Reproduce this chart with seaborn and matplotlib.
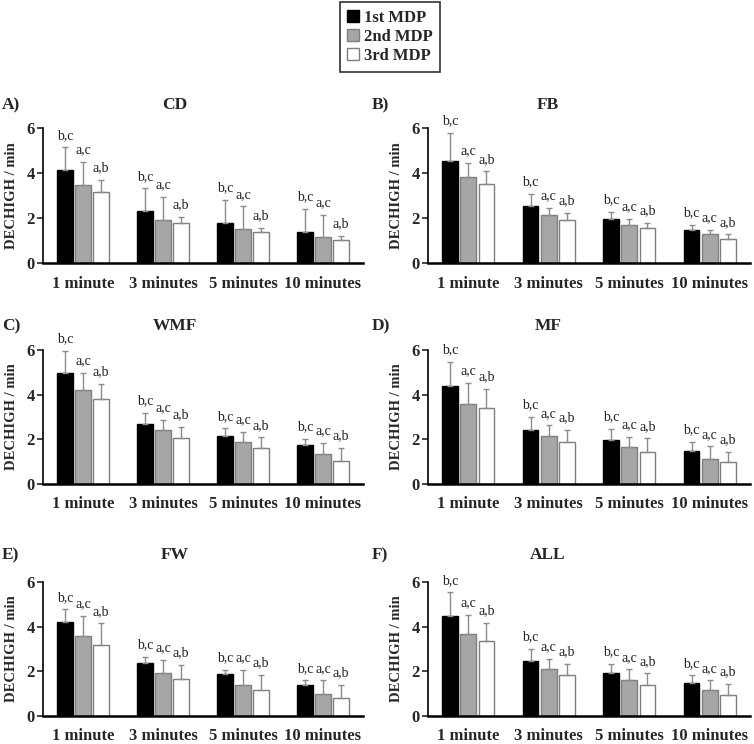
import numpy as np
import pandas as pd
import matplotlib
matplotlib.use('Agg')
import matplotlib.pyplot as plt
from matplotlib.patches import Patch
import seaborn as sns

# -------------------- Data --------------------
times = ['1 minute', '3 minutes', '5 minutes', '10 minutes']
mdps = ['1st MDP', '2nd MDP', '3rd MDP']
sig_labels = ['b,c', 'a,c', 'a,b']
panel_names = ['CD', 'FB', 'WMF', 'MF', 'FW', 'ALL']
panel_letters = ['A)', 'B)', 'C)', 'D)', 'E)', 'F)']

# rows = time window, columns = 1st / 2nd / 3rd MDP
cd_mean = [[4.15, 3.48, 3.16], [2.30, 1.93, 1.78], [1.78, 1.53, 1.36], [1.36, 1.16, 1.02]]
cd_sd = [[0.99, 1.01, 0.53], [1.02, 1.00, 0.26], [1.02, 0.99, 0.20], [1.04, 0.97, 0.17]]

fb_mean = [[4.55, 3.81, 3.51], [2.53, 2.13, 1.93], [1.94, 1.67, 1.54], [1.47, 1.27, 1.08]]
fb_sd = [[1.23, 0.63, 0.56], [0.54, 0.31, 0.29], [0.34, 0.29, 0.25], [0.23, 0.20, 0.19]]

wmf_mean = [[4.97, 4.20, 3.80], [2.70, 2.40, 2.06], [2.14, 1.89, 1.62], [1.73, 1.33, 1.03]]
wmf_sd = [[1.00, 0.79, 0.70], [0.47, 0.48, 0.49], [0.35, 0.43, 0.47], [0.29, 0.50, 0.59]]

mf_mean = [[4.41, 3.57, 3.39], [2.43, 2.14, 1.87], [1.98, 1.65, 1.43], [1.50, 1.11, 0.97]]
mf_sd = [[1.05, 0.96, 0.86], [0.58, 0.49, 0.55], [0.50, 0.46, 0.61], [0.37, 0.57, 0.46]]

fw_mean = [[4.22, 3.56, 3.19], [2.37, 1.93, 1.66], [1.87, 1.41, 1.16], [1.38, 0.98, 0.81]]
fw_sd = [[0.55, 0.91, 0.96], [0.27, 0.59, 0.62], [0.20, 0.66, 0.68], [0.21, 0.61, 0.58]]

all_mean = [[4.47, 3.69, 3.38], [2.46, 2.10, 1.82], [1.93, 1.62, 1.40], [1.47, 1.16, 0.94]]
all_sd = [[1.06, 0.84, 0.80], [0.53, 0.47, 0.52], [0.42, 0.47, 0.51], [0.35, 0.44, 0.49]]

means = [cd_mean, fb_mean, wmf_mean, mf_mean, fw_mean, all_mean]
sds = [cd_sd, fb_sd, wmf_sd, mf_sd, fw_sd, all_sd]

# -------------------- Style --------------------
sns.set_style('white')
plt.rcParams['font.family'] = ['Liberation Serif', 'DejaVu Serif']

face_colors = ['#000000', '#a6a6a6', '#ffffff']
edge_colors = ['#000000', '#7f7f7f', '#7f7f7f']
err_color = '#8c8c8c'

W, H = 754, 744
fig = plt.figure(figsize=(W / 100, H / 100), dpi=100)

col_left = [43, 428]
col_right = [363, 750]
row_zero = [263, 484, 716]    # pixel y of value 0
row_six = [128, 350, 582]     # pixel y of value 6
title_y = [105, 326, 555]
title_x = [175, 548]
letter_x = [2, 372]

for i, name in enumerate(panel_names):
    r, c = divmod(i, 2)
    left = col_left[c] / W
    width = (col_right[c] - col_left[c]) / W
    bottom = 1 - row_zero[r] / H
    height = (row_zero[r] - row_six[r]) / H
    ax = fig.add_axes([left, bottom, width, height])

    df = pd.DataFrame([
        {'time': t, 'mdp': m, 'value': means[i][ti][mi], 'sd': sds[i][ti][mi]}
        for ti, t in enumerate(times) for mi, m in enumerate(mdps)
    ])
    sns.barplot(data=df, x='time', y='value', hue='mdp', order=times, hue_order=mdps,
                palette=face_colors, errorbar=None, width=0.68, gap=0.15,
                saturation=1, legend=False, ax=ax)

    bar_groups = list(ax.containers)
    for mi, cont in enumerate(bar_groups):
        sub = df[df['mdp'] == mdps[mi]].set_index('time').loc[times]
        xs, ys = [], []
        for bar in cont:
            bar.set_edgecolor(edge_colors[mi])
            bar.set_linewidth(1.0)
            bar.set_facecolor(face_colors[mi])
            xs.append(bar.get_x() + bar.get_width() / 2)
            ys.append(bar.get_height())
        err = sub['sd'].values
        ax.errorbar(xs, ys, yerr=[np.zeros(len(err)), err], fmt='none',
                    ecolor=err_color, elinewidth=1.0, capsize=2.5, capthick=1.0, zorder=1)
        for x, y, e in zip(xs, ys, err):
            ax.annotate(sig_labels[mi], (x, y + e), xytext=(0, 4), textcoords='offset points',
                        ha='center', va='bottom', fontsize=10, color='#222222',
                        annotation_clip=False)

    ax.set_ylim(0, 6)
    ax.set_xlim(-0.5, 3.5)
    ax.set_yticks([0, 2, 4, 6])
    ax.set_xlabel('')
    ax.set_ylabel('DECHIGH / min', fontsize=10.5, fontweight='bold', labelpad=6)
    ax.tick_params(axis='y', labelsize=12, length=4, width=1.2, direction='out', left=True, pad=2)
    ax.tick_params(axis='x', labelsize=12, length=0, pad=9)
    for lab in ax.get_xticklabels() + ax.get_yticklabels():
        lab.set_fontweight('bold')
    sns.despine(ax=ax)
    ax.spines['left'].set_linewidth(1.2)
    ax.spines['bottom'].set_linewidth(1.8)
    ax.spines['left'].set_color('black')
    ax.spines['bottom'].set_color('black')

    fig.text(letter_x[c] / W, 1 - title_y[r] / H, panel_letters[i], fontsize=12.5,
             fontweight='bold', ha='left', va='center')
    fig.text(title_x[c] / W, 1 - title_y[r] / H, name, fontsize=12.5,
             fontweight='bold', ha='center', va='center')

handles = [Patch(facecolor=face_colors[k], edgecolor=edge_colors[k], label=mdps[k]) for k in range(3)]
leg = fig.legend(handles=handles, loc='upper center', bbox_to_anchor=(390 / W, 1 - 2 / H),
                 frameon=True, fancybox=False, edgecolor='black', handlelength=0.7,
                 handleheight=0.7, handletextpad=0.3, labelspacing=0.2, borderpad=0.45,
                 borderaxespad=0, prop={'weight': 'bold', 'size': 12})
leg.get_frame().set_linewidth(1.2)

fig.savefig('out.png', dpi=100)
